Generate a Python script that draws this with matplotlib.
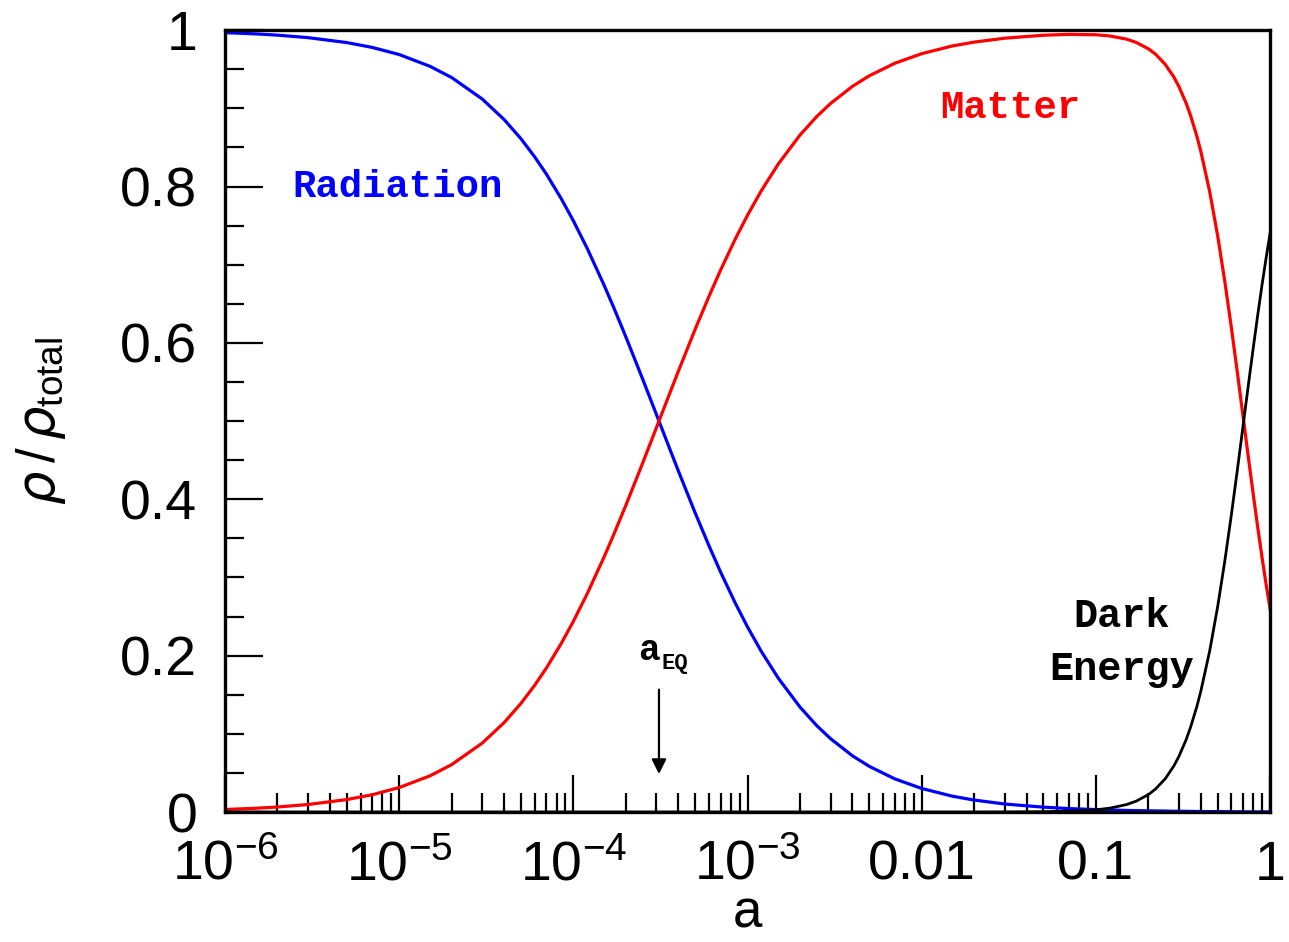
import matplotlib
matplotlib.use('Agg')
import matplotlib.pyplot as plt
from matplotlib.ticker import FixedLocator, MultipleLocator, LogLocator, NullFormatter

plt.rcParams['font.family'] = ['Liberation Sans', 'DejaVu Sans']
plt.rcParams['mathtext.default'] = 'regular'

# scale factor a and density fractions
a_vals = [1e-6, 1.5e-6, 2e-6, 3e-6, 5e-6, 7e-6,
          1e-5, 1.5e-5, 2e-5, 3e-5, 4e-5, 5e-5, 6e-5, 7e-5, 8.5e-5,
          1e-4, 1.2e-4, 1.5e-4, 1.7e-4, 2e-4, 2.5e-4, 3e-4, 3.5e-4, 4e-4, 5e-4, 6e-4, 7e-4, 8.5e-4,
          1e-3, 1.2e-3, 1.5e-3, 2e-3, 2.5e-3, 3e-3, 4e-3, 5e-3, 7e-3,
          1e-2, 1.5e-2, 2e-2, 3e-2, 5e-2, 7e-2,
          0.1, 0.12, 0.15, 0.17, 0.2, 0.22, 0.25, 0.28, 0.3, 0.33, 0.35, 0.38, 0.4, 0.45,
          0.5, 0.55, 0.6, 0.65, 0.7, 0.75, 0.8, 0.85, 0.9, 0.95, 1.0]
radiation = [0.9968, 0.9952, 0.9936, 0.9904, 0.9841, 0.9779,
             0.9688, 0.9538, 0.9394, 0.9118, 0.8857, 0.8611, 0.8378, 0.8158, 0.7848,
             0.7561, 0.7209, 0.6739, 0.6458, 0.6078, 0.5536, 0.5082, 0.4697, 0.4366, 0.3827, 0.3407, 0.3069, 0.2672,
             0.2366, 0.2053, 0.1713, 0.1342, 0.1103, 0.0937, 0.0719, 0.0584, 0.0424,
             0.0301, 0.0202, 0.0153, 0.0102, 0.0062, 0.0044,
             0.0031, 0.0026, 0.0020, 0.0018, 0.0015, 0.0014, 0.0012, 0.0010, 0.0010, 0.0009, 0.0008, 0.0007, 0.0007, 0.0005,
             0.0005, 0.0004, 0.0003, 0.0003, 0.0002, 0.0002, 0.0002, 0.0001, 0.0001, 0.0001, 0.0001]
matter = [0.0032, 0.0048, 0.0064, 0.0096, 0.0159, 0.0221,
          0.0313, 0.0462, 0.0606, 0.0882, 0.1143, 0.1389, 0.1622, 0.1842, 0.2152,
          0.2439, 0.2791, 0.3261, 0.3542, 0.3922, 0.4464, 0.4918, 0.5303, 0.5634, 0.6173, 0.6593, 0.6931, 0.7328,
          0.7634, 0.7947, 0.8287, 0.8658, 0.8897, 0.9063, 0.9281, 0.9416, 0.9576,
          0.9699, 0.9798, 0.9847, 0.9897, 0.9935, 0.9946,
          0.9941, 0.9926, 0.9885, 0.9844, 0.9762, 0.9693, 0.9563, 0.9402, 0.9277, 0.9064, 0.8905, 0.8643, 0.8454, 0.7937,
          0.7373, 0.6784, 0.6191, 0.5612, 0.5059, 0.4543, 0.4069, 0.3639, 0.3252, 0.2907, 0.2600]
dark_energy = [0.0, 0.0, 0.0, 0.0, 0.0, 0.0,
               0.0, 0.0, 0.0, 0.0, 0.0, 0.0, 0.0, 0.0, 0.0,
               0.0, 0.0, 0.0, 0.0, 0.0, 0.0, 0.0, 0.0, 0.0, 0.0, 0.0, 0.0, 0.0,
               0.0, 0.0, 0.0, 0.0, 0.0, 0.0, 0.0, 0.0, 0.0,
               0.0, 0.0, 0.0, 0.0001, 0.0004, 0.0010,
               0.0028, 0.0049, 0.0095, 0.0138, 0.0222, 0.0294, 0.0425, 0.0587, 0.0713, 0.0927, 0.1087, 0.1350, 0.1540, 0.2058,
               0.2623, 0.3212, 0.3806, 0.4386, 0.4939, 0.5455, 0.5929, 0.6360, 0.6747, 0.7092, 0.7399]

a_eq = 3.1e-4
x_ticks = [1e-6, 1e-5, 1e-4, 1e-3, 0.01, 0.1, 1]
x_labels = ['10$^{-6}$', '10$^{-5}$', '10$^{-4}$', '10$^{-3}$', '0.01', '0.1', '1']
y_ticks = [0, 0.2, 0.4, 0.6, 0.8, 1]
y_labels = ['0', '0.2', '0.4', '0.6', '0.8', '1']

fig = plt.figure(figsize=(12.89, 9.42), dpi=100)
ax = fig.add_axes([0.1746, 0.138, 0.8107, 0.830])

ax.plot(a_vals, radiation, color='#0000ff', lw=2.3)
ax.plot(a_vals, matter, color='#ff0000', lw=2.3)
ax.plot(a_vals, dark_energy, color='black', lw=2.0)

ax.set_xscale('log')
ax.set_xlim(1e-6, 1)
ax.set_ylim(0, 1)

ax.xaxis.set_major_locator(FixedLocator(x_ticks))
ax.set_xticklabels(x_labels)
ax.xaxis.set_minor_locator(LogLocator(base=10, subs=range(2, 10), numticks=20))
ax.xaxis.set_minor_formatter(NullFormatter())
ax.yaxis.set_major_locator(FixedLocator(y_ticks))
ax.set_yticklabels(y_labels)
ax.yaxis.set_minor_locator(MultipleLocator(0.05))

ax.tick_params(which='both', direction='in', top=False, right=False, width=1.6,
               labelsize=40, pad=20)
ax.tick_params(which='major', length=27)
ax.tick_params(which='minor', length=14)
for s in ax.spines.values():
    s.set_linewidth(2.4)

ax.set_xlabel('a', fontsize=38)
ax.xaxis.set_label_coords(0.5, -0.098)
ax.set_ylabel(r'$\mathit{\rho}\,/\,\mathit{\rho}_{total}$', fontsize=38)
ax.yaxis.set_label_coords(-0.15, 0.5)

lab = dict(family='Liberation Mono', fontweight='bold', fontsize=28)
ax.text(0.165, 0.8, 'Radiation', color='#0000ff', ha='center', va='center',
        transform=ax.transAxes, **lab)
ax.text(0.751, 0.9, 'Matter', color='#ff0000', ha='center', va='center',
        transform=ax.transAxes, **lab)
ax.text(0.858, 0.217, 'Dark\nEnergy', color='black', ha='center', va='center',
        linespacing=1.5, transform=ax.transAxes,
        family='Liberation Mono', fontweight='bold', fontsize=29)

ax.annotate('', xy=(a_eq, 0.045), xytext=(a_eq, 0.16),
            arrowprops=dict(arrowstyle='-|>', color='black', lw=1.6,
                            mutation_scale=22))
ax.text(0.406, 0.207, 'a', ha='center', va='center', fontsize=26,
        family='Liberation Mono', fontweight='bold', transform=ax.transAxes)
ax.text(0.418, 0.19, 'EQ', ha='left', va='center', fontsize=16,
        family='Liberation Mono', fontweight='bold', transform=ax.transAxes)

fig.savefig('out.png', dpi=100, facecolor='white')
